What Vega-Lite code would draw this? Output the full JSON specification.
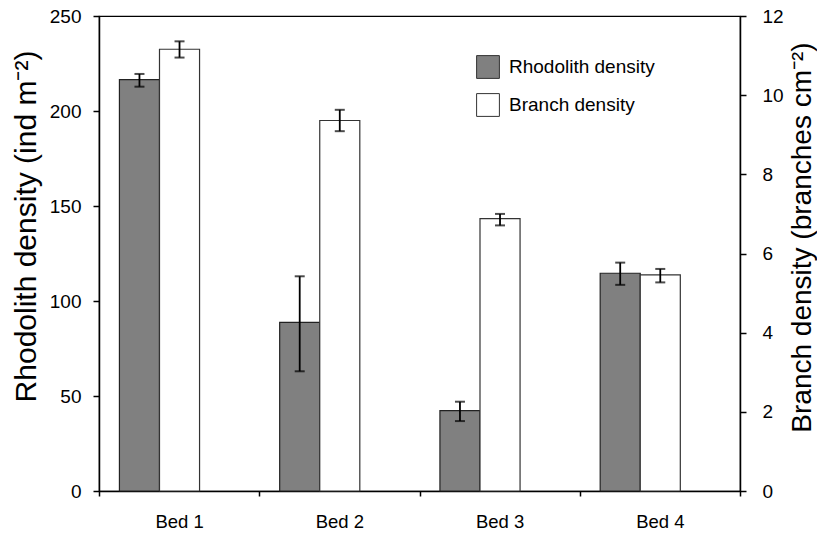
{
  "$schema": "https://vega.github.io/schema/vega-lite/v6.json",
  "width": 641,
  "height": 475,
  "autosize": {"type": "none"},
  "padding": {"left": 99, "top": 16, "right": 77, "bottom": 47},
  "background": "white",
  "config": {
    "font": "Liberation Sans",
    "view": {"stroke": "#000", "strokeWidth": 1.2},
    "axis": {"labelColor": "#000", "titleColor": "#000", "domainColor": "#000", "tickColor": "#000", "grid": false, "labelFont": "Liberation Sans", "titleFont": "Liberation Sans", "titleFontWeight": "normal", "domainWidth": 1.5, "tickWidth": 1.5}
  },
  "data": {
    "values": [
      {"bed": "Bed 1", "series": "Rhodolith density", "value": 216.5, "lo": 212.8, "hi": 219.5},
      {"bed": "Bed 2", "series": "Rhodolith density", "value": 88.8, "lo": 63, "hi": 113},
      {"bed": "Bed 3", "series": "Rhodolith density", "value": 42.3, "lo": 36.8, "hi": 47},
      {"bed": "Bed 4", "series": "Rhodolith density", "value": 114.6, "lo": 108.5, "hi": 120.2},
      {"bed": "Bed 1", "series": "Branch density", "value": 11.16, "lo": 10.95, "hi": 11.36},
      {"bed": "Bed 2", "series": "Branch density", "value": 9.36, "lo": 9.09, "hi": 9.63},
      {"bed": "Bed 3", "series": "Branch density", "value": 6.88, "lo": 6.71, "hi": 7.0},
      {"bed": "Bed 4", "series": "Branch density", "value": 5.46, "lo": 5.27, "hi": 5.61}
    ]
  },
  "encoding": {
    "x": {
      "field": "bed", "type": "nominal", "sort": null,
      "scale": {"paddingInner": 0, "paddingOuter": 0},
      "axis": {"title": null, "labelAngle": 0, "tickBand": "extent", "labelFontSize": 18.5, "tickSize": 5, "labelPadding": 16}
    },
    "xOffset": {
      "field": "series", "type": "nominal",
      "scale": {"domain": ["Rhodolith density", "Branch density"], "paddingInner": 0, "paddingOuter": 1.054, "align": 0.255}
    }
  },
  "layer": [
    {
      "transform": [{"filter": "datum.series === 'Rhodolith density'"}],
      "layer": [
        {
          "mark": {"type": "bar", "stroke": "#222", "strokeWidth": 1.2},
          "encoding": {
            "y": {"field": "value", "type": "quantitative", "scale": {"domain": [0, 250], "nice": false},
              "axis": {"title": "Rhodolith density (ind m⁻²)", "titleFontSize": 30, "titleX": -73, "titleY": 210, "titleAngle": 270, "titleBaseline": "middle", "titleAlign": "center", "labelFontSize": 19, "values": [0, 50, 100, 150, 200, 250], "tickSize": 6, "labelPadding": 12}},
            "fill": {"field": "series", "type": "nominal", "scale": {"domain": ["Rhodolith density", "Branch density"], "range": ["#808080", "#ffffff"]},
              "legend": {"title": null, "orient": "none", "legendX": 377, "legendY": 39, "symbolType": "square", "symbolSize": 520, "symbolStrokeColor": "#333", "symbolStrokeWidth": 1, "labelFontSize": 19, "labelColor": "#000", "labelOffset": 9, "rowPadding": 10, "labelFont": "Liberation Sans"}}
          }
        },
        {
          "mark": {"type": "rule", "color": "#000", "strokeWidth": 1.8},
          "encoding": {"y": {"field": "lo", "type": "quantitative", "scale": {"domain": [0, 250], "nice": false},
              "axis": {"title": "Rhodolith density (ind m⁻²)", "titleFontSize": 30, "titleX": -73, "titleY": 210, "titleAngle": 270, "titleBaseline": "middle", "titleAlign": "center", "labelFontSize": 19, "values": [0, 50, 100, 150, 200, 250], "tickSize": 6, "labelPadding": 12}}, "y2": {"field": "hi"}}
        },
        {
          "mark": {"type": "tick", "color": "#000", "size": 10, "thickness": 2},
          "encoding": {"y": {"field": "lo", "type": "quantitative", "scale": {"domain": [0, 250], "nice": false},
              "axis": {"title": "Rhodolith density (ind m⁻²)", "titleFontSize": 30, "titleX": -73, "titleY": 210, "titleAngle": 270, "titleBaseline": "middle", "titleAlign": "center", "labelFontSize": 19, "values": [0, 50, 100, 150, 200, 250], "tickSize": 6, "labelPadding": 12}}}
        },
        {
          "mark": {"type": "tick", "color": "#000", "size": 10, "thickness": 2},
          "encoding": {"y": {"field": "hi", "type": "quantitative", "scale": {"domain": [0, 250], "nice": false},
              "axis": {"title": "Rhodolith density (ind m⁻²)", "titleFontSize": 30, "titleX": -73, "titleY": 210, "titleAngle": 270, "titleBaseline": "middle", "titleAlign": "center", "labelFontSize": 19, "values": [0, 50, 100, 150, 200, 250], "tickSize": 6, "labelPadding": 12}}}
        }
      ]
    },
    {
      "transform": [{"filter": "datum.series === 'Branch density'"}],
      "layer": [
        {
          "mark": {"type": "bar", "stroke": "#333", "strokeWidth": 1.2},
          "encoding": {
            "y": {"field": "value", "type": "quantitative", "scale": {"domain": [0, 12], "nice": false},
              "axis": {"orient": "right", "title": "Branch density (branches cm⁻²)", "titleFontSize": 28, "titleX": 62, "titleY": 221, "titleAngle": 270, "titleBaseline": "middle", "titleAlign": "center", "labelFontSize": 19, "values": [0, 2, 4, 6, 8, 10, 12], "tickSize": 6, "labelPadding": 16}},
            "fill": {"field": "series", "type": "nominal"}
          }
        },
        {
          "mark": {"type": "rule", "color": "#000", "strokeWidth": 1.8},
          "encoding": {"y": {"field": "lo", "type": "quantitative", "scale": {"domain": [0, 12], "nice": false},
              "axis": {"orient": "right", "title": "Branch density (branches cm⁻²)", "titleFontSize": 28, "titleX": 62, "titleY": 221, "titleAngle": 270, "titleBaseline": "middle", "titleAlign": "center", "labelFontSize": 19, "values": [0, 2, 4, 6, 8, 10, 12], "tickSize": 6, "labelPadding": 16}}, "y2": {"field": "hi"}}
        },
        {
          "mark": {"type": "tick", "color": "#000", "size": 10, "thickness": 2},
          "encoding": {"y": {"field": "lo", "type": "quantitative", "scale": {"domain": [0, 12], "nice": false},
              "axis": {"orient": "right", "title": "Branch density (branches cm⁻²)", "titleFontSize": 28, "titleX": 62, "titleY": 221, "titleAngle": 270, "titleBaseline": "middle", "titleAlign": "center", "labelFontSize": 19, "values": [0, 2, 4, 6, 8, 10, 12], "tickSize": 6, "labelPadding": 16}}}
        },
        {
          "mark": {"type": "tick", "color": "#000", "size": 10, "thickness": 2},
          "encoding": {"y": {"field": "hi", "type": "quantitative", "scale": {"domain": [0, 12], "nice": false},
              "axis": {"orient": "right", "title": "Branch density (branches cm⁻²)", "titleFontSize": 28, "titleX": 62, "titleY": 221, "titleAngle": 270, "titleBaseline": "middle", "titleAlign": "center", "labelFontSize": 19, "values": [0, 2, 4, 6, 8, 10, 12], "tickSize": 6, "labelPadding": 16}}}
        }
      ]
    }
  ],
  "resolve": {"scale": {"y": "independent"}}
}
